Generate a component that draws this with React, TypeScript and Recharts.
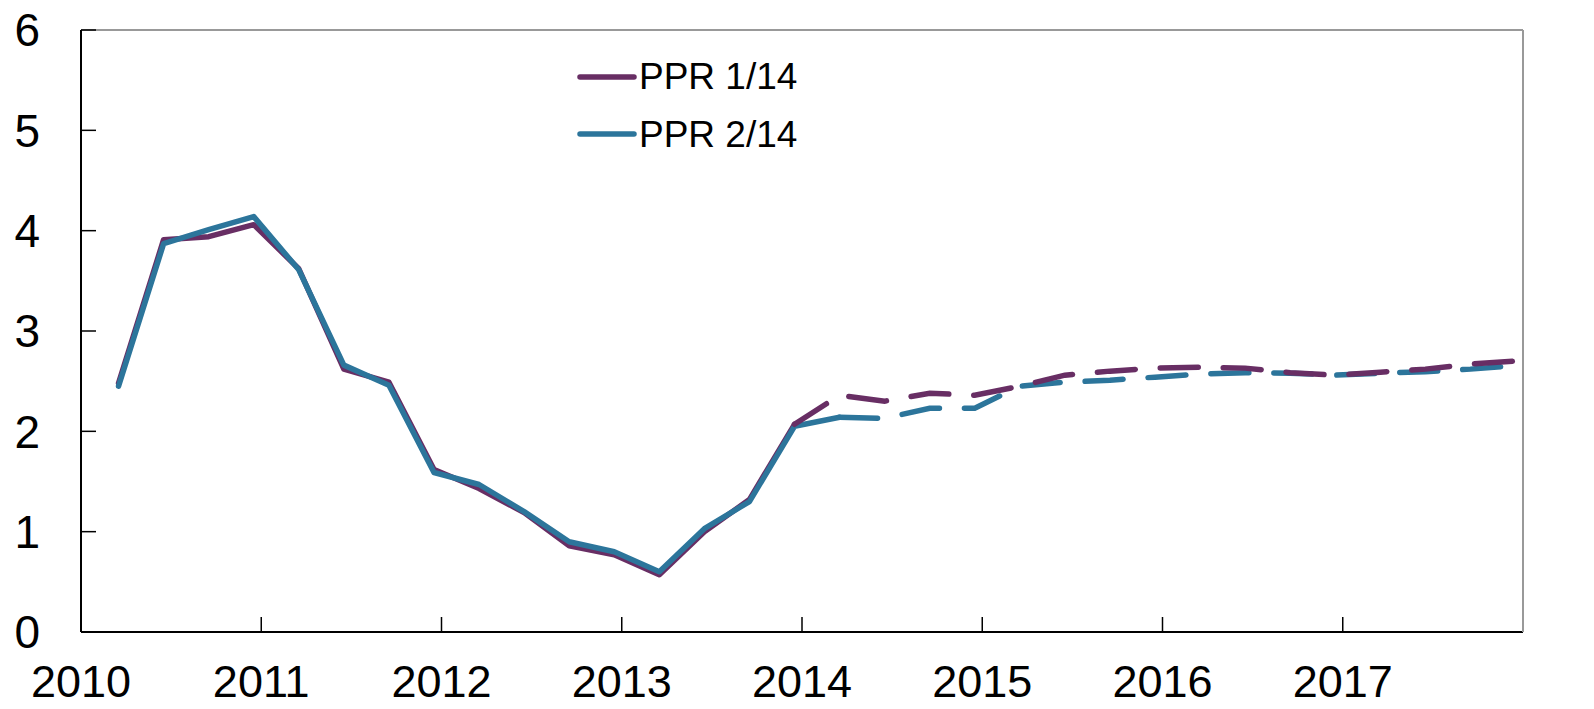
import React from 'react';
import { LineChart, Line, XAxis, YAxis, ReferenceLine } from 'recharts';

// Quarterly periods (observations plotted mid last month of each quarter)
const periods = [
  '2010Q1','2010Q2','2010Q3','2010Q4',
  '2011Q1','2011Q2','2011Q3','2011Q4',
  '2012Q1','2012Q2','2012Q3','2012Q4',
  '2013Q1','2013Q2','2013Q3','2013Q4',
  '2014Q1','2014Q2','2014Q3','2014Q4',
  '2015Q1','2015Q2','2015Q3','2015Q4',
  '2016Q1','2016Q2','2016Q3','2016Q4',
  '2017Q1','2017Q2','2017Q3','2017Q4',
];

const ppr114 = [
  2.48, 3.91, 3.94, 4.06,
  3.62, 2.62, 2.49, 1.62,
  1.43, 1.19, 0.86, 0.77,
  0.57, 1.00, 1.32, 2.07,
  2.36, 2.30, 2.38, 2.36,
  2.45, 2.56, 2.60, 2.63,
  2.64, 2.63, 2.585, 2.56,
  2.59, 2.62, 2.67, 2.70,
];

const ppr214 = [
  2.45, 3.87, 4.01, 4.14,
  3.61, 2.66, 2.46, 1.59,
  1.47, 1.20, 0.90, 0.80,
  0.60, 1.03, 1.30, 2.05,
  2.14, 2.13, 2.23, 2.23,
  2.45, 2.49, 2.51, 2.54,
  2.57, 2.585, 2.58, 2.56,
  2.58, 2.595, 2.62, 2.655,
];

const lastActual114 = '2013Q4';
const lastActual214 = '2014Q1';

const seriesNames = ['PPR 1/14', 'PPR 2/14'];
const seriesColors = ['#682E64', '#2C759B'];

const yearTicks = [2010, 2011, 2012, 2013, 2014, 2015, 2016, 2017];
const yTicks = [0, 1, 2, 3, 4, 5, 6];

const periodToX = (p: string) => {
  const year = Number(p.slice(0, 4));
  const q = Number(p.slice(5));
  return year + (3 * q - 0.5) / 12;
};

const idx114 = periods.indexOf(lastActual114);
const idx214 = periods.indexOf(lastActual214);

const data = periods.map((p, i) => ({
  x: periodToX(p),
  a1: i <= idx114 ? ppr114[i] : null,
  f1: i >= idx114 ? ppr114[i] : null,
  a2: i <= idx214 ? ppr214[i] : null,
  f2: i >= idx214 ? ppr214[i] : null,
}));

const FONT = 'Arial, "Liberation Sans", sans-serif';
const SW = 5.5;

const LegendOverlay = () => (
  <div style={{ position: 'absolute', left: 577, top: 48, fontFamily: FONT }}>
    {seriesNames.map((n, i) => (
      <div key={n} style={{ display: 'flex', alignItems: 'center', height: 57.6 }}>
        <svg width={60} height={10} style={{ display: 'block' }}>
          <line x1={3} y1={5} x2={57} y2={5} stroke={seriesColors[i]} strokeWidth={SW} strokeLinecap="round" />
        </svg>
        <span style={{ fontSize: 37, color: '#000', marginLeft: 2, lineHeight: 1 }}>{n}</span>
      </div>
    ))}
  </div>
);

export default function App() {
  return (
    <div style={{ position: 'absolute', left: 0, top: 0, width: 1594, height: 709, background: '#fff', overflow: 'hidden' }}>
      <LineChart width={1594} height={709} data={data} margin={{ top: 30, right: 0, bottom: 0, left: 0 }}>
        <XAxis
          dataKey="x"
          type="number"
          domain={[2010, 2018]}
          ticks={yearTicks}
          tickFormatter={(v: number) => String(v)}
          height={77}
          axisLine={{ stroke: '#000', strokeWidth: 2 }}
          tickLine={{ stroke: '#000', strokeWidth: 1.5 }}
          tickSize={-15}
          tickMargin={48}
          tick={{ fill: '#000', fontSize: 45, fontFamily: FONT }}
          interval={0}
        />
        <YAxis
          yAxisId="left"
          orientation="left"
          domain={[0, 6]}
          ticks={yTicks}
          width={81}
          axisLine={{ stroke: '#000', strokeWidth: 2 }}
          tickLine={{ stroke: '#000', strokeWidth: 1.5 }}
          tickSize={-15}
          tickMargin={56}
          tick={{ fill: '#000', fontSize: 46, fontFamily: FONT }}
          interval={0}
        />
        <YAxis
          yAxisId="right"
          orientation="right"
          domain={[0, 6]}
          ticks={yTicks}
          width={71}
          axisLine={{ stroke: '#999', strokeWidth: 2 }}
          tickLine={{ stroke: '#999', strokeWidth: 1.5 }}
          tickSize={-15}
          tickMargin={58}
          tick={{ fill: '#000', fontSize: 46, fontFamily: FONT }}
          interval={0}
        />
        <ReferenceLine yAxisId="left" y={6} stroke="#999" strokeWidth={2} />
        <Line yAxisId="left" dataKey="a1" stroke={seriesColors[0]} strokeWidth={SW} dot={false} isAnimationActive={false} strokeLinejoin="round" strokeLinecap="round" />
        <Line yAxisId="left" dataKey="a2" stroke={seriesColors[1]} strokeWidth={SW} dot={false} isAnimationActive={false} strokeLinejoin="round" strokeLinecap="round" />
        <Line yAxisId="left" dataKey="f2" stroke={seriesColors[1]} strokeWidth={SW} dot={false} isAnimationActive={false} strokeDasharray="38 25" strokeLinecap="round" />
        <Line yAxisId="left" dataKey="f1" stroke={seriesColors[0]} strokeWidth={SW} dot={false} isAnimationActive={false} strokeDasharray="38 25" strokeLinecap="round" />
      </LineChart>
      <LegendOverlay />
    </div>
  );
}
